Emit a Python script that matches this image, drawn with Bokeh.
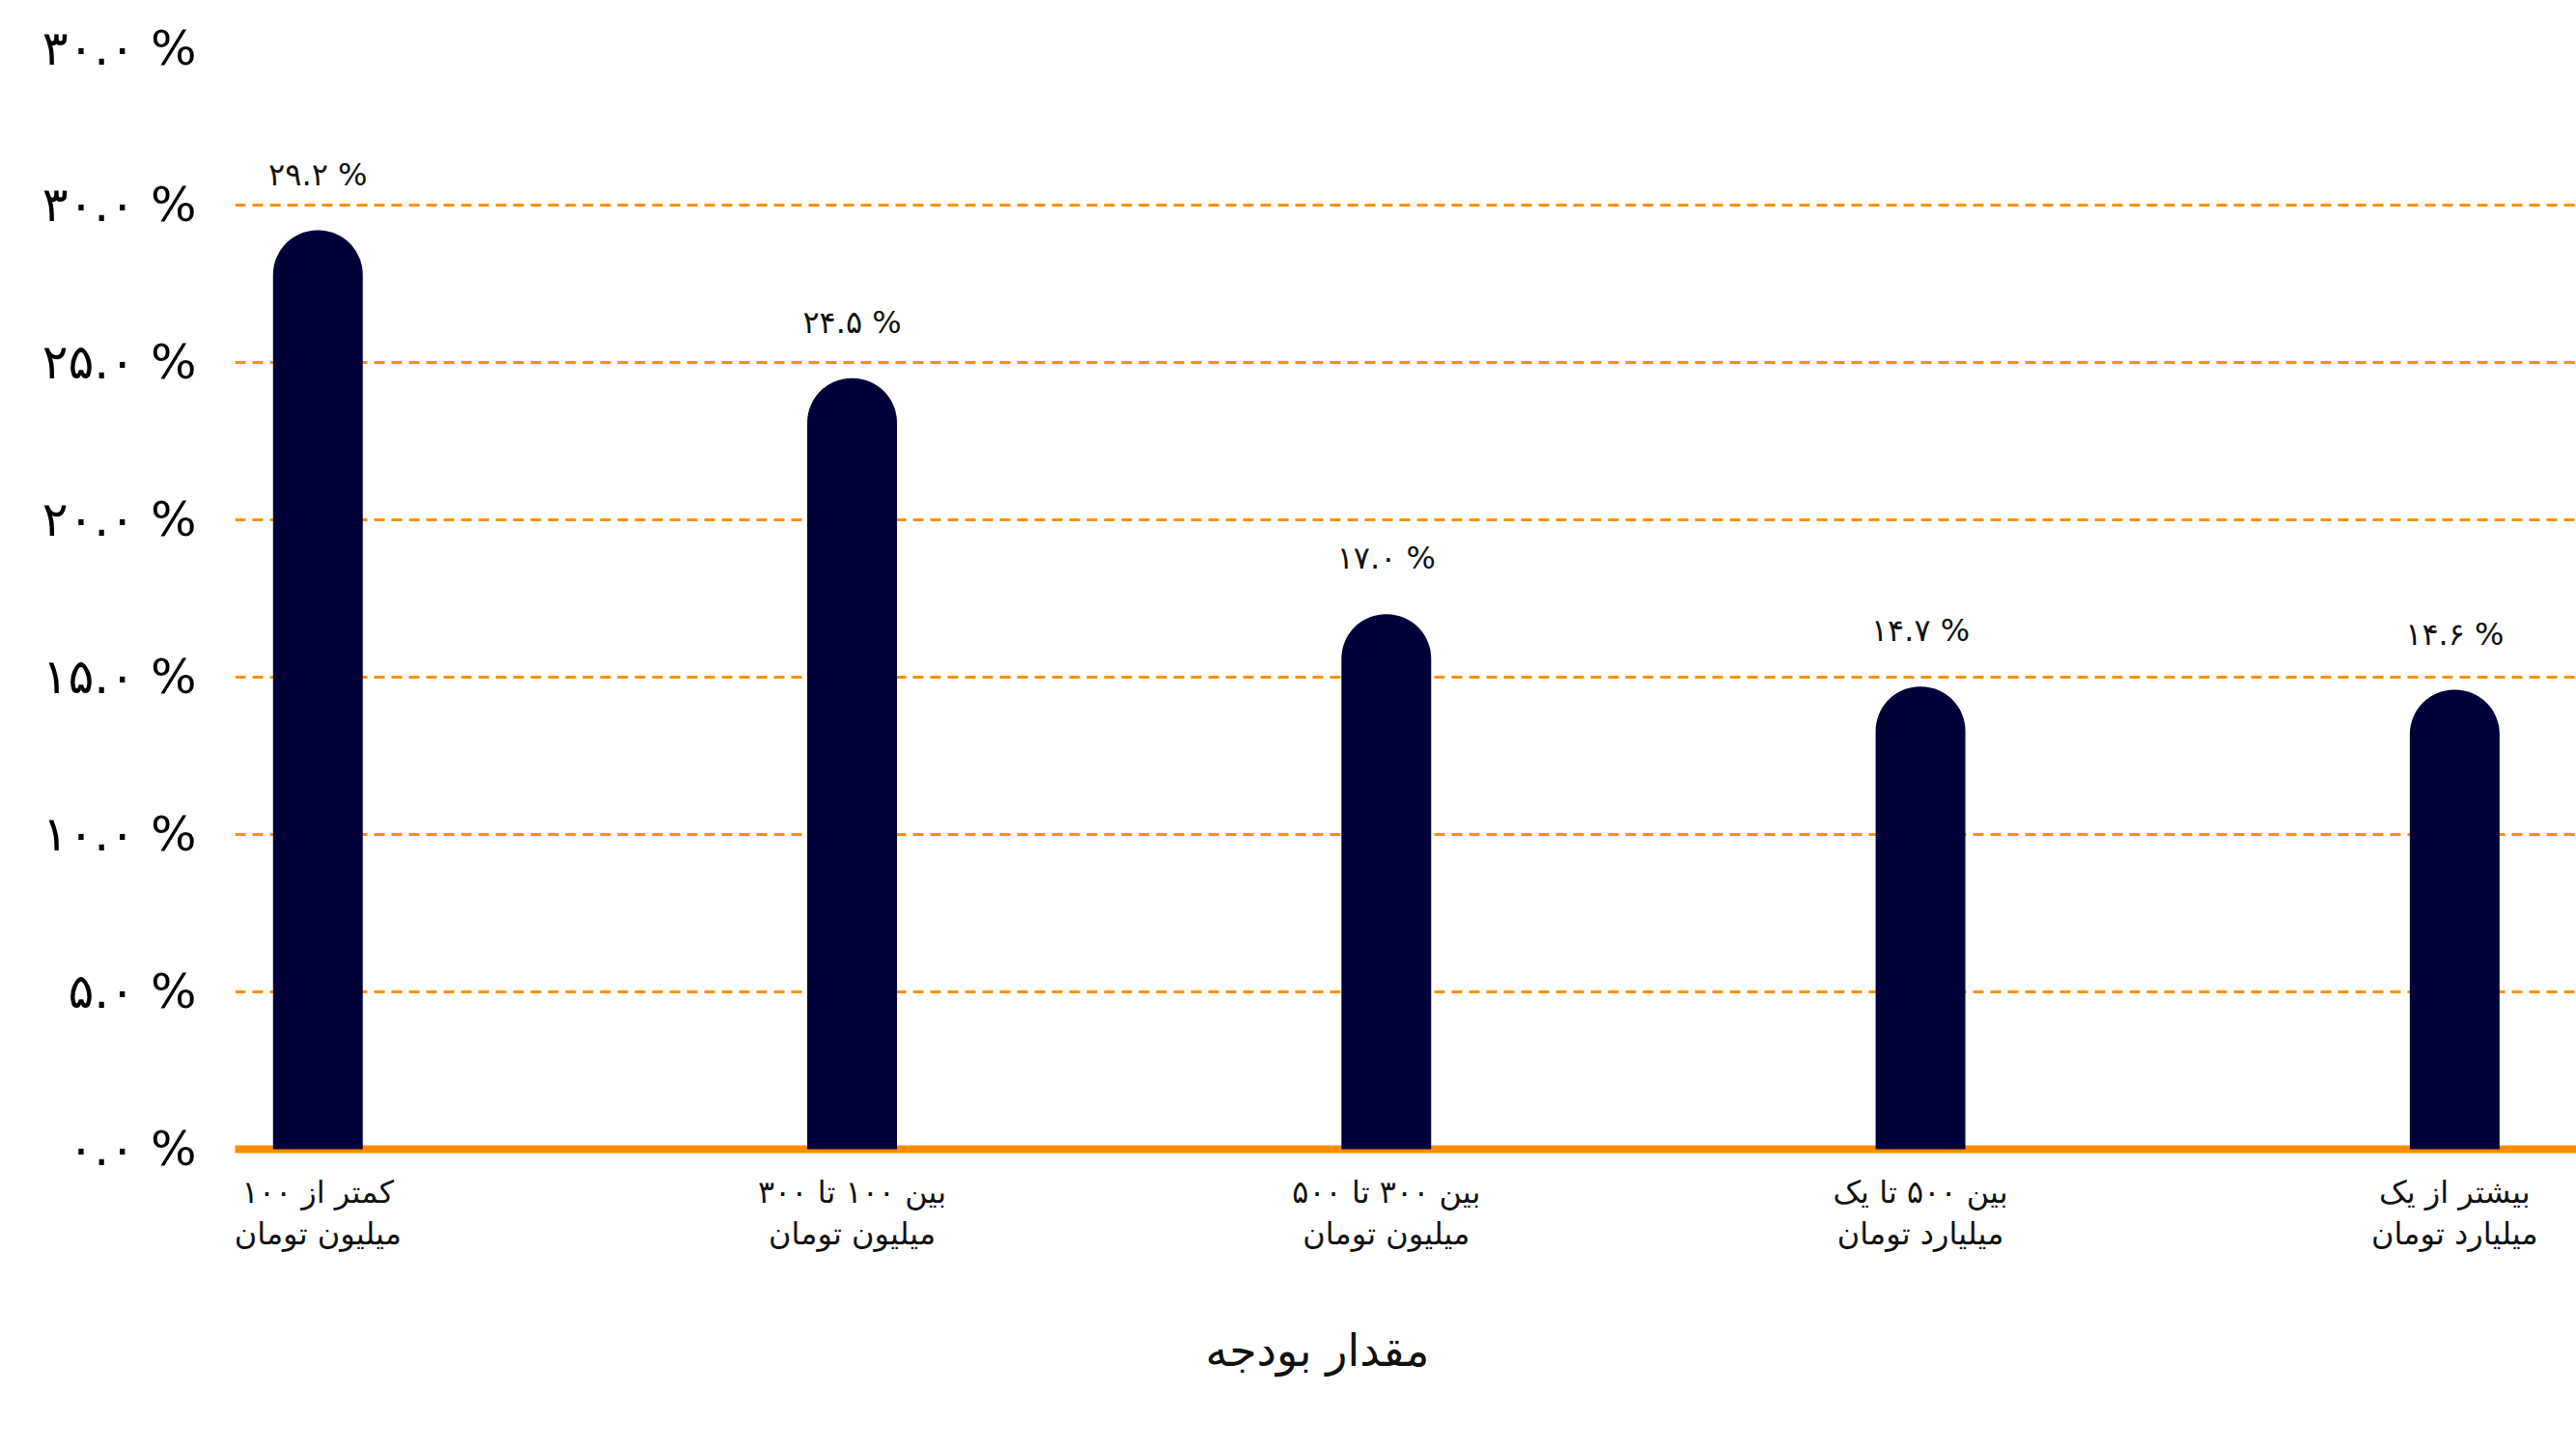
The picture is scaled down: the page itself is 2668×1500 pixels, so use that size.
from bokeh.plotting import figure
from bokeh.models import Range1d, FixedTicker, Span, Title, ColumnDataSource
from bokeh.core.properties import value
from bokeh.embed import file_html
from bokeh.resources import INLINE

# ---- data ----
categories = [
    "کمتر از ۱۰۰\nمیلیون تومان",
    "بین ۱۰۰ تا ۳۰۰\nمیلیون تومان",
    "بین ۳۰۰ تا ۵۰۰\nمیلیون تومان",
    "بین ۵۰۰ تا یک\nمیلیارد تومان",
    "بیشتر از یک\nمیلیارد تومان",
]
values = [29.2, 24.5, 17.0, 14.7, 14.6]
y_ticks = [0, 5, 10, 15, 20, 25, 30, 35]
y_tick_labels = ["۰.۰ %", "۵.۰ %", "۱۰.۰ %", "۱۵.۰ %", "۲۰.۰ %", "۲۵.۰ %", "۳۰.۰ %", "۳۰.۰ %"]
x_title = "مقدار بودجه"

FONT = "DejaVu Sans"
fa_digits = str.maketrans("0123456789", "۰۱۲۳۴۵۶۷۸۹")
value_labels = [f"{v:.1f}".translate(fa_digits) + " %" for v in values]
xs = list(range(len(categories)))

src = ColumnDataSource(dict(x=xs, top=values, lab=value_labels))

p = figure(
    width=2668, height=1500,
    x_range=Range1d(-0.155, 4.228), y_range=Range1d(-0.4, 35),
    output_backend="svg", toolbar_location=None,
    min_border_left=243, min_border_right=0, min_border_top=49, min_border_bottom=297,
)
p.outline_line_color = None
p.background_fill_color = "white"

# grid
p.xgrid.visible = False
p.ygrid.ticker = FixedTicker(ticks=y_ticks[1:])
p.ygrid.grid_line_color = "#FF9000"
p.ygrid.grid_line_width = 3
p.ygrid.grid_line_dash = "11 7"

# baseline
base = Span(location=0, dimension="width", line_color="#FF8C00", line_width=8,
            line_cap="round", level="underlay")
p.add_layout(base)

# bars
p.vbar(x="x", top="top", bottom=0, width=0.168, source=src,
       fill_color="#01013A", line_color=None, border_radius=(46, 46, 0, 0))

# value labels
p.text(x="x", y="top", text="lab", source=src, text_align="center",
       text_baseline="middle", y_offset=-58, text_font=value(FONT),
       text_font_size="32px", text_color="#111111")

# y axis
ya = p.yaxis[0]
ya.ticker = FixedTicker(ticks=y_ticks)
ya.major_label_overrides = {t: l for t, l in zip(y_ticks, y_tick_labels)}
ya.axis_line_color = None
ya.major_tick_line_color = None
ya.minor_tick_line_color = None
ya.major_tick_out = 0
ya.major_label_standoff = 40
ya.major_label_text_font = FONT
ya.major_label_text_font_size = "50px"
ya.major_label_text_color = "#000000"

# x axis
xa = p.xaxis[0]
xa.ticker = FixedTicker(ticks=xs)
xa.major_label_overrides = {i: c for i, c in zip(xs, categories)}
xa.axis_line_color = None
xa.major_tick_line_color = None
xa.minor_tick_line_color = None
xa.major_tick_out = 0
xa.major_label_standoff = 12
xa.major_label_text_font = FONT
xa.major_label_text_font_size = "32px"
xa.major_label_text_line_height = 1.14
xa.major_label_text_color = "#111111"

# x-axis title (placed off-centre like the reference)
title = Title(text=x_title, align="left", offset=1005, standoff=140,
              text_font=FONT, text_font_size="46px", text_font_style="normal",
              text_color="#111111")
p.add_layout(title, "below")

open("out.html", "w").write(file_html(p, INLINE))
